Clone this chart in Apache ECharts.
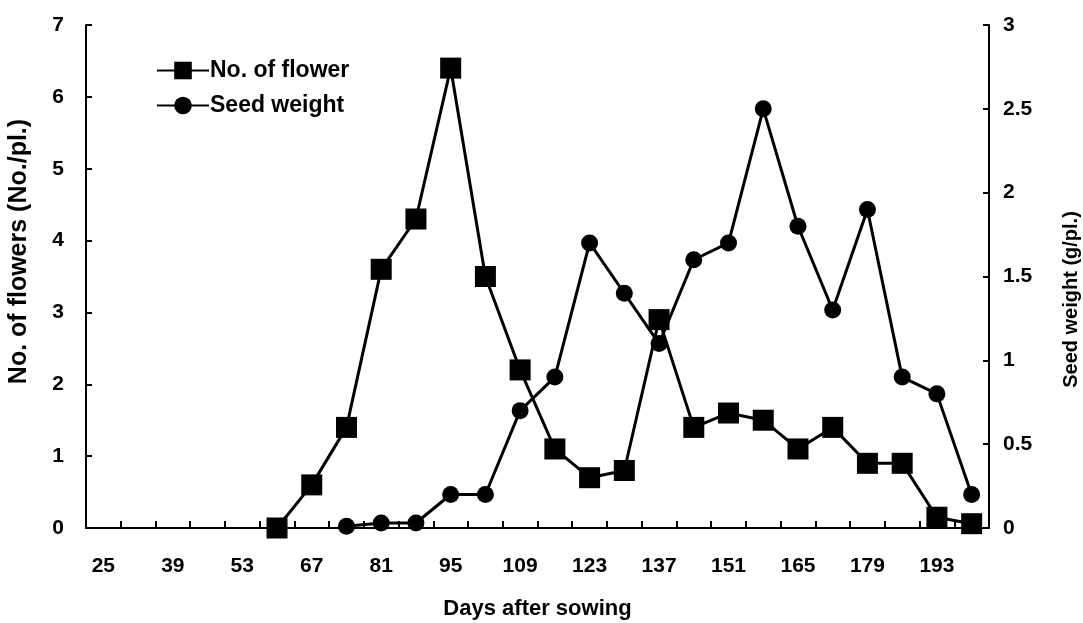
<!DOCTYPE html>
<html>
<head>
<meta charset="utf-8">
<script src="https://cdn.jsdelivr.net/npm/echarts@6/dist/echarts.min.js"></script>
<style>
html,body{margin:0;padding:0;background:#fff;}
#chart{width:1083px;height:623px;}
</style>
</head>
<body>
<div id="chart"></div>
<script>
var days = [25,32,39,46,53,60,67,74,81,88,95,102,109,116,123,130,137,144,151,158,165,172,179,186,193,200];
var flowers = [null,null,null,null,null,0,0.6,1.4,3.6,4.3,6.4,3.5,2.2,1.1,0.7,0.8,2.9,1.4,1.6,1.5,1.1,1.4,0.9,0.9,0.15,0.06];
var seedWeight = [null,null,null,null,null,null,null,0.01,0.03,0.03,0.2,0.2,0.7,0.9,1.7,1.4,1.1,1.6,1.7,2.5,1.8,1.3,1.9,0.9,0.8,0.2];
var leftTicks = [0,1,2,3,4,5,6,7];
var rightTicks = [0,0.5,1,1.5,2,2.5,3];

var FONT = 'Liberation Sans';
var chart = echarts.init(document.getElementById('chart'), null, {renderer:'canvas'});
function lab(size){ return {color:'#000', fontFamily:FONT, fontWeight:'bold', fontSize:size}; }
chart.setOption({
  animation:false,
  backgroundColor:'#fff',
  grid:{left:86, right:94, top:25, bottom:95, containLabel:false, outerBoundsMode:'none'},
  legend:{
    orient:'vertical', left:151, top:54, itemGap:12, itemWidth:52, itemHeight:22,
    textStyle:Object.assign({padding:[0,0,0,-4]}, lab(23)),
    data:['No. of flower','Seed weight']
  },
  xAxis:{
    type:'category', data:days, boundaryGap:true,
    name:'Days after sowing', nameLocation:'middle', nameGap:70,
    nameTextStyle:lab(22),
    axisLine:{show:true, lineStyle:{color:'#000', width:2}},
    axisTick:{show:true, inside:true, length:7, interval:0, alignWithLabel:false, lineStyle:{color:'#000', width:2}},
    axisLabel:Object.assign({show:true, interval:1, margin:28}, lab(21)),
    splitLine:{show:false}
  },
  yAxis:[{
    type:'value', min:0, max:7, interval:1, position:'left',
    name:'No. of flowers (No./pl.)', nameLocation:'middle', nameGap:54,
    nameTextStyle:Object.assign({padding:[0,0,0,50]}, lab(25)),
    axisLine:{show:true, lineStyle:{color:'#000', width:2}},
    axisTick:{show:true, inside:true, length:6, lineStyle:{color:'#000', width:2}},
    axisLabel:Object.assign({margin:22, formatter:function(v){return leftTicks.indexOf(v)>=0?String(v):'';}}, lab(21)),
    splitLine:{show:false}
  },{
    type:'value', min:0, max:3, interval:0.5, position:'right',
    name:'Seed weight (g/pl.)', nameLocation:'middle', nameGap:72,
    nameTextStyle:Object.assign({padding:[0,46,0,0]}, lab(20)),
    axisLine:{show:true, lineStyle:{color:'#000', width:2}},
    axisTick:{show:true, inside:true, length:6, lineStyle:{color:'#000', width:2}},
    axisLabel:Object.assign({margin:14, formatter:function(v){return rightTicks.indexOf(v)>=0?String(v):'';}}, lab(21)),
    splitLine:{show:false}
  }],
  series:[{
    name:'No. of flower', type:'line', yAxisIndex:0, data:flowers,
    symbol:'rect', symbolSize:21, connectNulls:false,
    lineStyle:{color:'#000', width:3}, itemStyle:{color:'#000'}, z:3
  },{
    name:'Seed weight', type:'line', yAxisIndex:1, data:seedWeight,
    symbol:'circle', symbolSize:17, connectNulls:false,
    lineStyle:{color:'#000', width:3}, itemStyle:{color:'#000'}, z:2
  }]
});
</script>
</body>
</html>
